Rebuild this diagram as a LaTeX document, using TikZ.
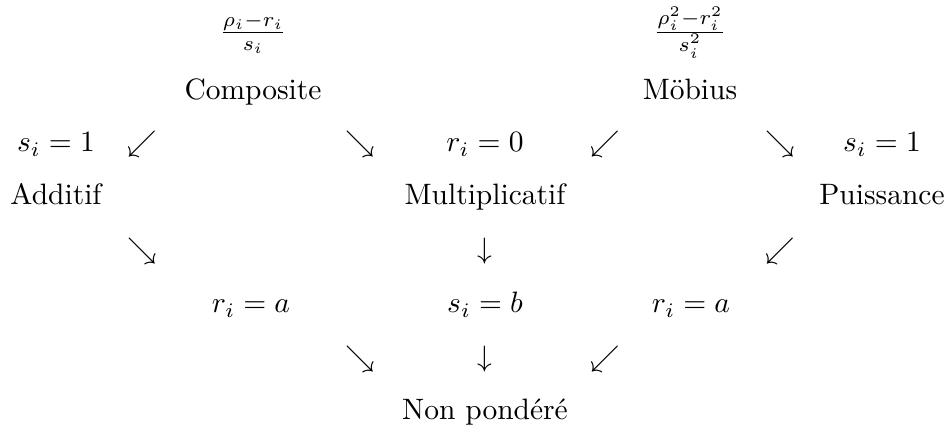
\documentclass[tikz,border=0pt]{standalone}
\usepackage{fontspec}
\begin{document}
\begin{tikzpicture}[x=0.339pt,y=-0.339pt,
  lbl/.style={inner sep=0pt,anchor=base,font=\normalsize},
  arr/.style={inner sep=0pt,anchor=base}]
\useasboundingbox (0,0) rectangle (947,432);
% top row: fractions
\node[lbl] (fc) at (253,40) {$\frac{\rho_i-r_i}{s_i}$};
\node[lbl] (fm) at (690,40) {$\frac{\rho_i^2-r_i^2}{s_i^2}$};
% row 1
\node[lbl] (comp) at (253,100) {Composite};
\node[lbl] (mob) at (690,100) {Möbius};
% row 2
\node[lbl] (s1l) at (56,152) {$s_i=1$};
\node[arr] (a1) at (142,152) {$\swarrow$};
\node[arr] (a2) at (360,152) {$\searrow$};
\node[lbl] (r0) at (485,152) {$r_i=0$};
\node[arr] (a3) at (605,152) {$\swarrow$};
\node[arr] (a4) at (780,152) {$\searrow$};
\node[lbl] (s1r) at (882,152) {$s_i=1$};
% row 3
\node[lbl] (add) at (56,205) {Additif};
\node[lbl] (mul) at (485,205) {Multiplicatif};
\node[lbl] (pui) at (882,205) {Puissance};
% row 4
\node[arr] (a5) at (142,259) {$\searrow$};
\node[arr] (a6) at (485,259) {$\downarrow$};
\node[arr] (a7) at (780,259) {$\swarrow$};
% row 5
\node[lbl] (ral) at (251,313) {$r_i=a$};
\node[lbl] (sb) at (485,313) {$s_i=b$};
\node[lbl] (rar) at (691,313) {$r_i=a$};
% row 6
\node[arr] (a8) at (360,367) {$\searrow$};
\node[arr] (a9) at (485,367) {$\downarrow$};
\node[arr] (a10) at (605,367) {$\swarrow$};
% row 7
\node[lbl] (np) at (485,420) {Non pondéré};
\end{tikzpicture}
\end{document}
